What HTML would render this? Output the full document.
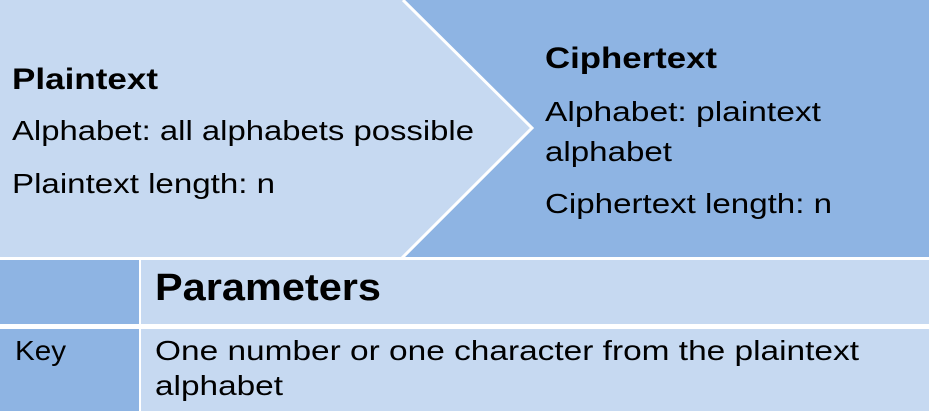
<!DOCTYPE html>
<html><head><meta charset="utf-8"><style>
html,body{margin:0;padding:0;background:#fff;}
svg{display:block;}
text{font-family:"Liberation Sans",sans-serif;fill:#000;}
</style></head><body>
<svg width="929" height="411" viewBox="0 0 929 411">
<rect x="0" y="0" width="929" height="258" fill="#8eb4e3"/>
<polygon points="0,0 403,0 532,128 402,258 0,258" fill="#c6d9f1"/>
<polyline points="403,0 532,128 402,258" fill="none" stroke="#fff" stroke-width="3"/>
<rect x="0" y="257" width="929" height="3" fill="#fff"/>
<rect x="0" y="260" width="139" height="64" fill="#8eb4e3"/>
<rect x="141" y="260" width="788" height="64" fill="#c6d9f1"/>
<rect x="0" y="329" width="139" height="82" fill="#8eb4e3"/>
<rect x="141" y="329" width="788" height="82" fill="#c6d9f1"/>

<text x="12" y="89" font-size="30" font-weight="bold" textLength="146" lengthAdjust="spacingAndGlyphs">Plaintext</text>
<text x="12" y="140" font-size="28" textLength="462" lengthAdjust="spacingAndGlyphs">Alphabet: all alphabets possible</text>
<text x="12" y="193" font-size="28" textLength="263" lengthAdjust="spacingAndGlyphs">Plaintext length: n</text>

<text x="545" y="68" font-size="30" font-weight="bold" textLength="172" lengthAdjust="spacingAndGlyphs">Ciphertext</text>
<text x="545" y="121" font-size="28" textLength="276" lengthAdjust="spacingAndGlyphs">Alphabet: plaintext</text>
<text x="545" y="161" font-size="28" textLength="127" lengthAdjust="spacingAndGlyphs">alphabet</text>
<text x="545" y="213" font-size="28" textLength="287" lengthAdjust="spacingAndGlyphs">Ciphertext length: n</text>

<text x="155" y="300" font-size="38" font-weight="bold" textLength="226" lengthAdjust="spacingAndGlyphs">Parameters</text>
<text x="15" y="360" font-size="28" textLength="51" lengthAdjust="spacingAndGlyphs">Key</text>
<text x="155" y="360" font-size="28" textLength="704" lengthAdjust="spacingAndGlyphs">One number or one character from the plaintext</text>
<text x="155" y="395" font-size="28" textLength="128" lengthAdjust="spacingAndGlyphs">alphabet</text>
</svg>
</body></html>
